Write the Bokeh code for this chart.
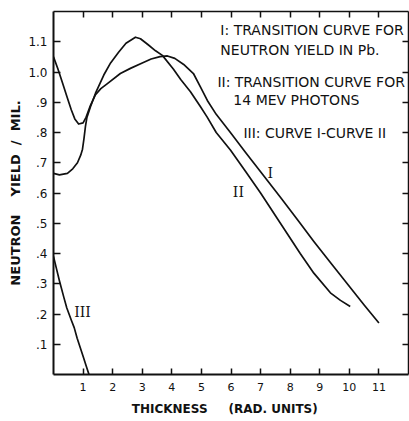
from bokeh.plotting import figure
from bokeh.models import (LinearAxis, FixedTicker, Range1d, Label,
                          CustomJSTickFormatter)
from bokeh.embed import file_html
from bokeh.resources import INLINE

# ---- data ----
curve1_x = [0.0, 0.15, 0.3, 0.45, 0.6, 0.72, 0.85, 1.0, 1.1, 1.25, 1.42, 1.6,
            1.8, 2.26, 2.6, 3.0, 3.3, 3.6, 3.85, 4.1, 4.4, 4.73, 4.97, 5.2,
            5.5, 5.98, 6.5, 7.0, 7.67, 8.3, 8.8, 9.4, 9.93, 10.5, 11.0]
curve1_y = [1.05, 1.01, 0.965, 0.92, 0.875, 0.845, 0.828, 0.832, 0.85, 0.89,
            0.925, 0.945, 0.96, 0.995, 1.012, 1.03, 1.043, 1.051, 1.053, 1.045,
            1.025, 0.995, 0.95, 0.906, 0.86, 0.80, 0.733, 0.67, 0.586, 0.505,
            0.44, 0.365, 0.30, 0.23, 0.17]

curve2_x = [0.0, 0.2, 0.47, 0.65, 0.81, 0.92, 0.98, 1.03, 1.08, 1.13, 1.25,
            1.42, 1.7, 1.93, 2.2, 2.45, 2.77, 2.94, 3.2, 3.45, 3.68, 4.05, 4.3,
            4.63, 4.97, 5.2, 5.5, 5.98, 6.5, 7.0, 7.67, 8.34, 8.8, 9.36, 9.7,
            10.03]
curve2_y = [0.665, 0.66, 0.665, 0.68, 0.70, 0.725, 0.745, 0.78, 0.82, 0.85,
            0.885, 0.93, 0.99, 1.03, 1.065, 1.095, 1.115, 1.11, 1.09, 1.07,
            1.055, 1.01, 0.975, 0.935, 0.885, 0.85, 0.80, 0.742, 0.67, 0.60,
            0.50, 0.40, 0.335, 0.27, 0.245, 0.225]

curve3_x = [0.0, 0.1, 0.2, 0.35, 0.45, 0.6, 0.7, 0.8, 0.9, 1.0, 1.1, 1.2]
curve3_y = [0.39, 0.35, 0.31, 0.255, 0.22, 0.18, 0.155, 0.12, 0.09, 0.06,
            0.03, 0.0]

xtick_vals = [1, 2, 3, 4, 5, 6, 7, 8, 9, 10, 11]
ytick_vals = [0.1, 0.2, 0.3, 0.4, 0.5, 0.6, 0.7, 0.8, 0.9, 1.0, 1.1]
ytick_labels = [".1", ".2", ".3", ".4", ".5", ".6", ".7", ".8", ".9", "1.0", "1.1"]

legend_lines = ["I: TRANSITION CURVE FOR", "NEUTRON YIELD IN Pb.",
                "II: TRANSITION CURVE FOR", "14 MEV PHOTONS",
                "III: CURVE I-CURVE II"]
curve_names = ["I", "II", "III"]

INK = "#111111"
SANS = "DejaVu Sans"

p = figure(width=409, height=421, x_range=Range1d(0, 12), y_range=Range1d(0, 1.2),
           output_backend="svg", toolbar_location=None,
           min_border_left=53, min_border_right=1, min_border_top=11,
           min_border_bottom=47)
p.grid.visible = False
p.outline_line_color = None
p.background_fill_color = "white"

# bottom axis
xa = p.xaxis[0]
xa.ticker = FixedTicker(ticks=xtick_vals)
xa.major_tick_in = 6
xa.major_tick_out = 0
xa.minor_tick_in = 0
xa.minor_tick_out = 0
xa.axis_line_width = 2
xa.axis_line_color = INK
xa.major_tick_line_color = INK
xa.major_tick_line_width = 1.5
xa.major_label_standoff = 8
xa.major_label_text_font = SANS
xa.major_label_text_font_size = "11px"
xa.major_label_text_color = INK
xa.axis_label = "THICKNESS\u00a0\u00a0\u00a0\u00a0\u00a0(RAD.\u00a0UNITS)\u00a0\u00a0\u00a0"
xa.axis_label_text_font = SANS
xa.axis_label_text_font_size = "12px"
xa.axis_label_text_font_style = "bold"
xa.axis_label_text_color = INK
xa.axis_label_standoff = 8

# left axis
ya = p.yaxis[0]
ya.ticker = FixedTicker(ticks=ytick_vals)
ya.formatter = CustomJSTickFormatter(args=dict(vals=ytick_vals, labs=ytick_labels), code="""
for (let i = 0; i < vals.length; i++) { if (Math.abs(vals[i] - tick) < 1e-6) return labs[i]; }
return '';
""")
ya.major_tick_in = 7
ya.major_tick_out = 0
ya.minor_tick_in = 0
ya.minor_tick_out = 0
ya.axis_line_width = 2
ya.axis_line_color = INK
ya.major_tick_line_color = INK
ya.major_tick_line_width = 1.5
ya.major_label_standoff = 6
ya.major_label_text_font = SANS
ya.major_label_text_font_size = "12px"
ya.major_label_text_color = INK
ya.axis_label = "NEUTRON\u00a0\u00a0\u00a0\u00a0YIELD\u00a0\u00a0/\u00a0\u00a0MIL."
ya.axis_label_text_font = SANS
ya.axis_label_text_font_size = "13px"
ya.axis_label_text_font_style = "bold"
ya.axis_label_text_color = INK
ya.axis_label_standoff = 2

# top and right axes: ticks only
blank = CustomJSTickFormatter(code="return '';")
top = LinearAxis(ticker=FixedTicker(ticks=xtick_vals), formatter=blank,
                 major_tick_in=6, major_tick_out=0, minor_tick_in=0, minor_tick_out=0,
                 major_label_standoff=0, major_label_text_font_size="0px",
                 axis_line_width=1.5, axis_line_color=INK, major_tick_line_color=INK,
                 major_tick_line_width=1.5)
p.add_layout(top, "above")
right = LinearAxis(ticker=FixedTicker(ticks=ytick_vals), formatter=blank,
                   major_tick_in=6, major_tick_out=0, minor_tick_in=0, minor_tick_out=0,
                   major_label_standoff=0, major_label_text_font_size="0px",
                   axis_line_width=1.5, axis_line_color=INK, major_tick_line_color=INK,
                   major_tick_line_width=1.5)
p.add_layout(right, "right")

# curves
p.line(curve1_x, curve1_y, line_color=INK, line_width=1.7, line_join="round")
p.line(curve2_x, curve2_y, line_color=INK, line_width=1.7, line_join="round")
p.line(curve3_x, curve3_y, line_color=INK, line_width=1.7, line_join="round")

# legend text block
legend_pos = [(5.64, 1.139), (5.64, 1.073), (5.54, 0.967), (6.08, 0.907), (6.42, 0.798)]
for (lx, ly), txt in zip(legend_pos, legend_lines):
    p.add_layout(Label(x=lx, y=ly, text=txt, text_font=SANS, text_font_size="14px",
                       text_color=INK, text_align="left", text_baseline="middle"))

# curve labels
name_pos = [(7.33, 0.666), (6.25, 0.603), (0.98, 0.205)]
for (lx, ly), txt in zip(name_pos, curve_names):
    p.add_layout(Label(x=lx, y=ly, text=txt, text_font="DejaVu Serif",
                       text_font_size="14px", text_color=INK, text_align="center",
                       text_baseline="middle"))

open("out.html", "w").write(file_html(p, INLINE))
